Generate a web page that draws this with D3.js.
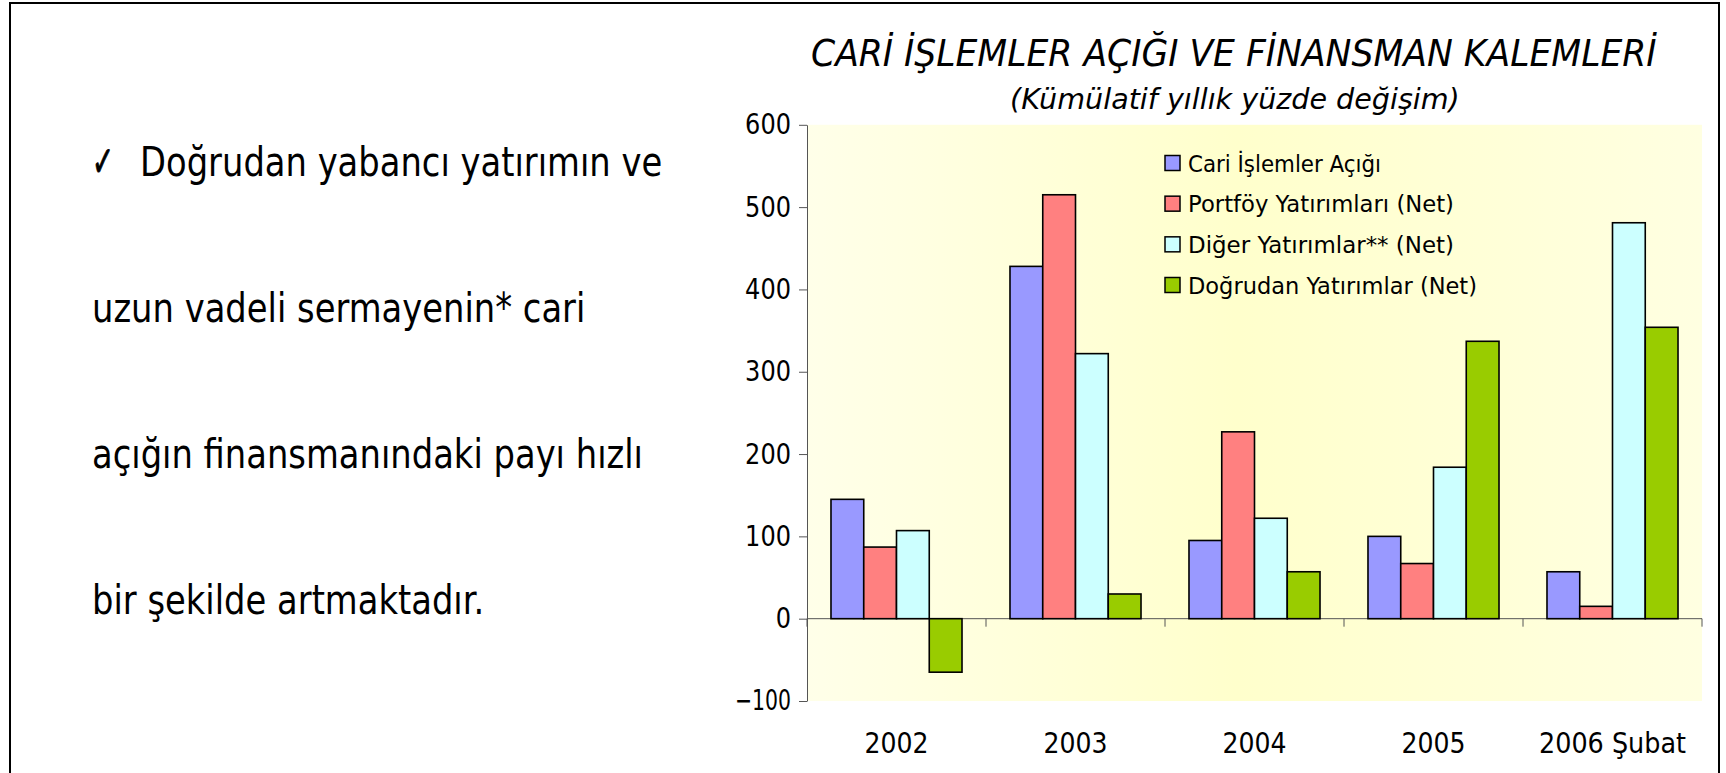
<!DOCTYPE html>
<html>
<head>
<meta charset="utf-8">
<script src="https://cdn.jsdelivr.net/npm/d3@7"></script>
<style>
  html, body { margin: 0; padding: 0; background: #fff; }
  svg { display: block; }
  text { font-family: "DejaVu Sans", Verdana, sans-serif; fill: #000; }
</style>
</head>
<body>
<svg id="chart" width="1726" height="773"></svg>
<script>
// ---------------- DATA ----------------
const categories = ["2002", "2003", "2004", "2005", "2006 Şubat"];
const seriesNames = ["Cari İşlemler Açığı", "Portföy Yatırımları (Net)", "Diğer Yatırımlar** (Net)", "Doğrudan Yatırımlar (Net)"];
const cariIslemlerAcigi = [145, 428, 95, 100, 57];
const portfoyYatirimlari = [87, 515, 227, 67, 15];
const digerYatirimlar = [107, 322, 122, 184, 481];
const dogrudanYatirimlar = [-65, 30, 57, 337, 354];
const yTicks = [-100, 0, 100, 200, 300, 400, 500, 600];
const seriesColors = ["#9999FF", "#FF8080", "#CCFFFF", "#99CC00"];
const titleText = "CARİ İŞLEMLER AÇIĞI VE FİNANSMAN KALEMLERİ";
const subtitleText = "(Kümülatif yıllık yüzde değişim)";
const bulletMark = "\u2713";
const bodyLines = ["Doğrudan yabancı yatırımın ve", "uzun vadeli sermayenin* cari", "açığın finansmanındaki payı hızlı", "bir şekilde artmaktadır."];

const seriesValues = [cariIslemlerAcigi, portfoyYatirimlari, digerYatirimlar, dogrudanYatirimlar];

// ---------------- LAYOUT ----------------
const svg = d3.select("#chart");
const plot = { left: 807, right: 1702, top: 124.8, bottom: 701 };

function fitText(sel, width) {
  sel.attr("textLength", width).attr("lengthAdjust", "spacingAndGlyphs");
}
// text horizontally scaled with a transform so that it spans `width`
function scaledText(x, y, str, size, width, italic) {
  const g = svg.append("g").attr("transform", `translate(${x},${y})`);
  const t = g.append("text").attr("x", 0).attr("y", 0).attr("font-size", size)
    .attr("font-style", italic ? "italic" : "normal").text(str);
  const natural = t.node().getComputedTextLength();
  t.attr("transform", `scale(${width / natural},1)`);
  return t;
}

// white background + frame
svg.append("rect").attr("x", 0).attr("y", 0).attr("width", 1726).attr("height", 773).attr("fill", "#fff");
svg.append("rect").attr("x", 10).attr("y", 3).attr("width", 1709).attr("height", 800)
  .attr("fill", "none").attr("stroke", "#000").attr("stroke-width", 2);

// ---------------- LEFT TEXT ----------------
const bodyBaselines = [176, 322, 468, 614];
const bodyX = [140, 92, 92, 92];
svg.append("text").attr("x", 92).attr("y", 176).attr("font-size", 42)
  .attr("stroke", "#000").attr("stroke-width", 0.9).text(bulletMark)
  .call(fitText, 22);
const bodyTexts = bodyLines.map((t, i) =>
  svg.append("text").attr("x", bodyX[i]).attr("y", bodyBaselines[i])
    .attr("font-size", 40).text(t));
// one common horizontal condensation (Tahoma is narrower than DejaVu Sans)
const squeeze = (643 - bodyX[2]) / bodyTexts[2].node().getComputedTextLength();
bodyTexts.forEach(t => t.call(fitText, t.node().getComputedTextLength() * squeeze));

// ---------------- TITLE ----------------
scaledText(811, 66, titleText, 38, 846, true);
scaledText(1010, 109, subtitleText, 29, 450, true);

// ---------------- SCALES ----------------
const y = d3.scaleLinear().domain([-100, 600]).range([plot.bottom, plot.top]);
const x0 = d3.scaleBand().domain(categories).range([plot.left, plot.right]).padding(0);
const bw = x0.bandwidth();
const x1 = d3.scaleBand().domain(d3.range(seriesNames.length))
  .range([bw * 0.134, bw * 0.866]).padding(0);

// plot background gradient
const defs = svg.append("defs");
const grad = defs.append("linearGradient").attr("id", "bg").attr("x1", "0%").attr("x2", "100%").attr("y1", "0%").attr("y2", "0%");
grad.append("stop").attr("offset", "0%").attr("stop-color", "#FFFFE9");
grad.append("stop").attr("offset", "48%").attr("stop-color", "#FFFFCC");
grad.append("stop").attr("offset", "100%").attr("stop-color", "#FFFFE1");
svg.append("rect").attr("x", plot.left).attr("y", plot.top)
  .attr("width", plot.right - plot.left).attr("height", plot.bottom - plot.top)
  .attr("fill", "url(#bg)");

// ---------------- AXES ----------------
const yAxis = svg.append("g").attr("transform", `translate(${plot.left},0)`)
  .call(d3.axisLeft(y).tickValues(yTicks).tickSize(8).tickSizeOuter(0).tickPadding(8).tickFormat(d3.format("d")));
yAxis.select(".domain").attr("stroke", "#555");
yAxis.selectAll(".tick line").attr("stroke", "#555");
yAxis.selectAll(".tick text").attr("font-size", 28).attr("fill", "#000")
  .style("font-family", '"DejaVu Sans", Verdana, sans-serif')
  .each(function (d) {
    const s = String(d);
    const w = s.replace("-", "").length * 15.3 + (s.includes("-") ? 10.2 : 0);
    d3.select(this).call(fitText, w);
  });

// zero line and category ticks
svg.append("line").attr("x1", plot.left).attr("x2", plot.right)
  .attr("y1", y(0)).attr("y2", y(0)).attr("stroke", "#555").attr("stroke-width", 1);
const boundaries = categories.map(c => x0(c)).concat([x0(categories[categories.length - 1]) + bw]);
svg.append("g").selectAll("line").data(boundaries).join("line")
  .attr("x1", d => d).attr("x2", d => d)
  .attr("y1", y(0)).attr("y2", y(0) + 8).attr("stroke", "#555");

// category labels
svg.append("g").selectAll("text").data(categories).join("text")
  .attr("x", d => x0(d) + bw / 2).attr("y", 753)
  .attr("text-anchor", "middle").attr("font-size", 29).text(d => d)
  .each(function (d) {
    d3.select(this).call(fitText, d.length > 4 ? 147 : 64);
  });

// ---------------- BARS ----------------
const barData = [];
seriesValues.forEach((vals, si) => {
  vals.forEach((v, ci) => barData.push({ si, cat: categories[ci], v }));
});
svg.append("g").selectAll("rect").data(barData).join("rect")
  .attr("x", d => x0(d.cat) + x1(d.si))
  .attr("width", x1.bandwidth())
  .attr("y", d => y(Math.max(0, d.v)))
  .attr("height", d => Math.abs(y(d.v) - y(0)))
  .attr("fill", d => seriesColors[d.si])
  .attr("stroke", "#000").attr("stroke-width", 1.6);

// ---------------- LEGEND ----------------
const legendWidths = [193, 266, 266, 289];
const legendY = d3.scalePoint().domain(d3.range(seriesNames.length)).range([163, 285]);
const lg = svg.append("g");
seriesNames.forEach((name, i) => {
  const cy = legendY(i);
  lg.append("rect").attr("x", 1165).attr("y", cy - 7.5).attr("width", 15).attr("height", 15)
    .attr("fill", seriesColors[i]).attr("stroke", "#000").attr("stroke-width", 1.5);
  lg.append("text").attr("x", 1188).attr("y", cy + 8.5).attr("font-size", 23).text(name)
    .call(fitText, legendWidths[i]);
});
</script>
</body>
</html>
